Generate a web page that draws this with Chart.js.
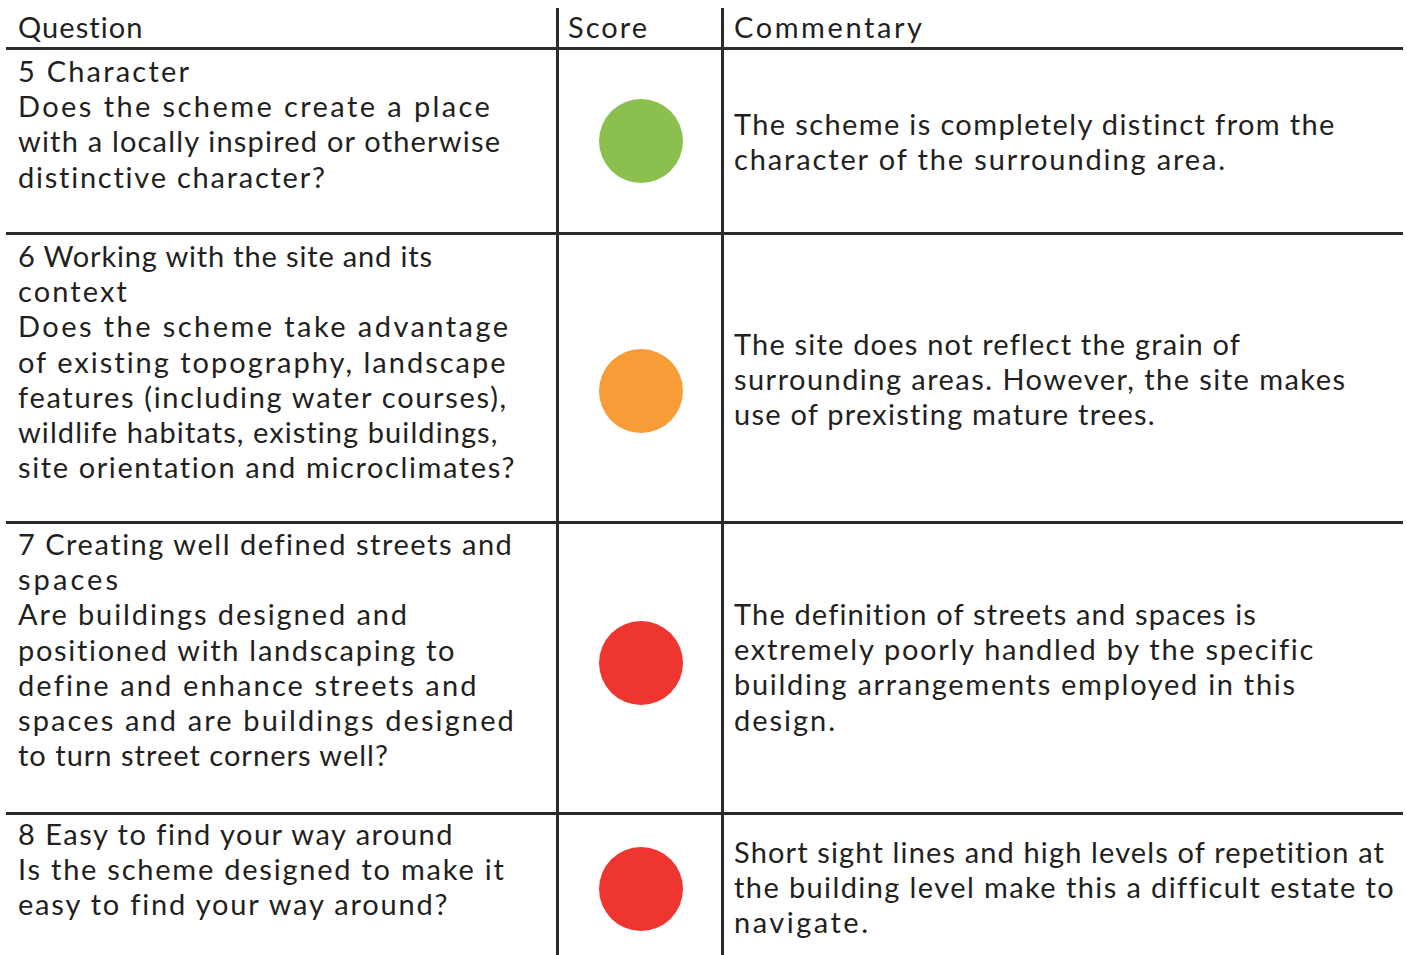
<!DOCTYPE html>
<html lang="en">
<head>
<meta charset="UTF-8">
<title>Score table</title>
<script src="https://cdn.jsdelivr.net/npm/chart.js@4.4.1/dist/chart.umd.min.js"></script>
<style>
    body { margin: 0; background: #fff; }
    #page { position: relative; width: 1407px; height: 955px; overflow: hidden;
            font-family: "Lato", sans-serif; font-size: 29px; line-height: 35.2px; color: #231f20; }
    .txt { position: absolute; }
    .txt span { display: block; white-space: nowrap; width: max-content; }
    .hl { position: absolute; left: 6px; width: 1397px; height: 3px; background: #2b2b2b; }
    .vl { position: absolute; top: 8px; bottom: 0; width: 3px; background: #2b2b2b; }
    .cell { position: absolute; width: 160px; height: 120px; }
</style>
</head>
<body>
<div id="page"></div>

<script>
    // table content
    const headers = ['Question', 'Score', 'Commentary'];
    const questions = [
        ['5 Character', 'Does the scheme create a place', 'with a locally inspired or otherwise', 'distinctive character?'],
        ['6 Working with the site and its', 'context', 'Does the scheme take advantage', 'of existing topography, landscape',
         'features (including water courses),', 'wildlife habitats, existing buildings,', 'site orientation and microclimates?'],
        ['7 Creating well defined streets and', 'spaces', 'Are buildings designed and', 'positioned with landscaping to',
         'define and enhance streets and', 'spaces and are buildings designed', 'to turn street corners well?'],
        ['8 Easy to find your way around', 'Is the scheme designed to make it', 'easy to find your way around?']
    ];
    const commentary = [
        ['The scheme is completely distinct from the', 'character of the surrounding area.'],
        ['The site does not reflect the grain of', 'surrounding areas. However, the site makes', 'use of prexisting mature trees.'],
        ['The definition of streets and spaces is', 'extremely poorly handled by the specific', 'building arrangements employed in this', 'design.'],
        ['Short sight lines and high levels of repetition at', 'the building level make this a difficult estate to', 'navigate.']
    ];
    // score per question (traffic light)
    const scores = ['green', 'amber', 'red', 'red'];
    const scoreColours = { green: '#8cc04e', amber: '#f79c36', red: '#ee3530' };

    // layout: grid lines, text tops, dot centres, right ends of each text line
    const rowLines = [48, 233, 522, 813];
    const colLines = [556, 721];
    const qTop = [53, 238, 526, 816];
    const cTop = [106, 326, 596, 834];
    const dotY = [141, 391, 663, 889];
    const headEnds = [143, 647, 922];
    const qEnds = [
        [189, 490, 500, 326],
        [432, 127, 508, 506, 506, 498, 515],
        [512, 118, 407, 455, 476, 514, 388],
        [452, 504, 447]
    ];
    const cEnds = [
        [1335, 1225],
        [1240, 1345, 1155],
        [1256, 1313, 1295, 835],
        [1385, 1392, 868]
    ];

    const page = document.getElementById('page');

    // each line gets its own letter spacing so it spans the same width as the original
    function addText(x, y, lines, ends) {
        let d = document.createElement('div');
        d.className = 'txt';
        d.style.left = x + 'px';
        d.style.top = y + 'px';
        page.appendChild(d);
        lines.forEach(function (line, k) {
            let s = document.createElement('span');
            s.textContent = line;
            d.appendChild(s);
            let w = s.getBoundingClientRect().width;
            let ls = (ends[k] - x - w) / Math.max(1, line.length - 1);
            s.style.letterSpacing = ls.toFixed(2) + 'px';
        });
    }

    rowLines.forEach(function (y) {
        let d = document.createElement('div');
        d.className = 'hl';
        d.style.top = (y - 1) + 'px';
        page.appendChild(d);
    });
    colLines.forEach(function (x) {
        let d = document.createElement('div');
        d.className = 'vl';
        d.style.left = x + 'px';
        page.appendChild(d);
    });

    addText(18, 9, [headers[0]], [headEnds[0]]);
    addText(568, 9, [headers[1]], [headEnds[1]]);
    addText(734, 9, [headers[2]], [headEnds[2]]);

    for (let i = 0; i < questions.length; i++) {
        addText(18, qTop[i], questions[i], qEnds[i]);
        addText(734, cTop[i], commentary[i], cEnds[i]);

        let box = document.createElement('div');
        box.className = 'cell';
        box.style.left = (641 - 80) + 'px';
        box.style.top = (dotY[i] - 60) + 'px';
        let c = document.createElement('canvas');
        box.appendChild(c);
        page.appendChild(box);

        new Chart(c, {
            type: 'scatter',
            data: {
                datasets: [{
                    data: [{ x: 0, y: 0 }],
                    backgroundColor: scoreColours[scores[i]],
                    borderWidth: 0,
                    pointStyle: 'circle',
                    pointRadius: 42,
                    pointHoverRadius: 42,
                    clip: false
                }]
            },
            options: {
                responsive: true,
                maintainAspectRatio: false,
                animation: false,
                layout: { padding: 0 },
                plugins: { legend: { display: false }, tooltip: { enabled: false } },
                scales: {
                    x: { display: false, min: -1, max: 1 },
                    y: { display: false, min: -1, max: 1 }
                }
            }
        });
    }
</script>
</body>
</html>
